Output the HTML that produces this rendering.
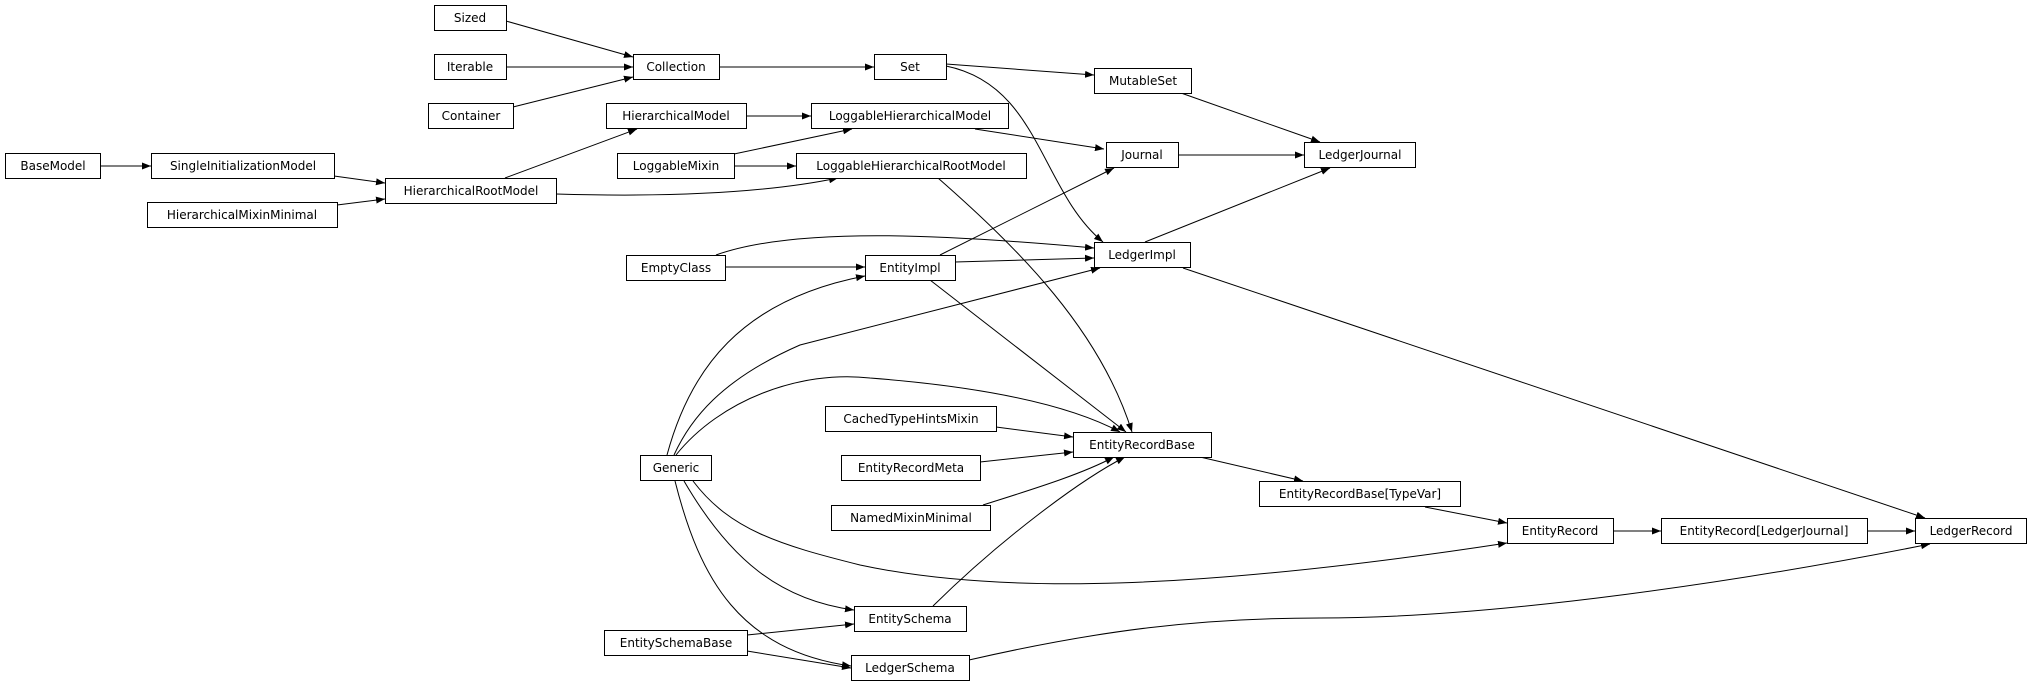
<!DOCTYPE html>
<html><head><meta charset="utf-8"><style>
html,body{margin:0;padding:0;background:#fff;}
svg{display:block;}
text{font-family:"DejaVu Sans","Liberation Sans",sans-serif;font-size:12px;fill:#000;}
rect{fill:#fff;stroke:#000;stroke-width:1;}
path{fill:none;stroke:#000;stroke-width:1;}
</style></head><body>
<svg width="2027" height="687" viewBox="0 0 2027 687" xmlns="http://www.w3.org/2000/svg">
<defs><marker id="a" markerWidth="9" markerHeight="7" refX="9" refY="3.5" orient="auto" markerUnits="userSpaceOnUse"><path d="M0,0 L9,3.5 L0,7 Z" style="fill:#000;stroke:none"/></marker></defs>
<g marker-end="url(#a)">
<path d="M506,21 L633,57"/>
<path d="M506,67 L633,67"/>
<path d="M513,107 L633,77"/>
<path d="M719,67 L874,67"/>
<path d="M946,64 L1094,75"/>
<path d="M946,66 C1040,85 1040,190 1103,242"/>
<path d="M1181,93 L1320,142"/>
<path d="M746,116 L811,116"/>
<path d="M975,129 L1104,149"/>
<path d="M734,154 L852,129"/>
<path d="M734,166 L796,166"/>
<path d="M1178,155 L1304,155"/>
<path d="M100,166 L151,166"/>
<path d="M334,176 L385,183"/>
<path d="M337,205 L385,199"/>
<path d="M505,178 L637,129"/>
<path d="M556,194 C690,198 780,190 838,178"/>
<path d="M938,178 C1020,250 1100,330 1132,432"/>
<path d="M725,267 L865,267"/>
<path d="M716,255 C800,225 960,236 1094,248"/>
<path d="M940,255 L1114,168"/>
<path d="M955,262 L1094,258"/>
<path d="M930,280 L1126,432"/>
<path d="M1145,242 L1330,168"/>
<path d="M1183,268 L1925,518"/>
<path d="M667,455 C690,370 740,300 865,276"/>
<path d="M674,455 C690,420 720,380 800,345 L1100,268"/>
<path d="M676,455 C720,400 800,370 870,378 C960,385 1060,400 1120,432"/>
<path d="M996,427 L1073,437"/>
<path d="M980,462 L1073,452"/>
<path d="M983,505 C1030,490 1080,475 1114,457"/>
<path d="M933,606 C1000,540 1080,480 1125,457"/>
<path d="M1200,457 L1303,481"/>
<path d="M1425,507 L1507,523"/>
<path d="M693,481 C730,530 780,545 860,565 C1000,595 1200,590 1507,543"/>
<path d="M684,481 C730,560 780,600 854,610"/>
<path d="M675,481 C700,580 740,650 851,666"/>
<path d="M747,635 L854,624"/>
<path d="M747,651 L851,668"/>
<path d="M969,660 C1100,630 1200,618 1320,618 C1500,618 1750,580 1930,544"/>
<path d="M1613,531 L1661,531"/>
<path d="M1867,531 L1915,531"/>
</g>
<g text-anchor="middle">
<rect x="434.5" y="5.5" width="72" height="25"/><text x="470" y="22">Sized</text>
<rect x="434.5" y="54.5" width="72" height="25"/><text x="470" y="71">Iterable</text>
<rect x="428.5" y="103.5" width="85" height="25"/><text x="471" y="120">Container</text>
<rect x="633.5" y="54.5" width="86" height="25"/><text x="676" y="71">Collection</text>
<rect x="874.5" y="54.5" width="72" height="25"/><text x="910" y="71">Set</text>
<rect x="1094.5" y="68.5" width="97" height="25"/><text x="1143" y="85">MutableSet</text>
<rect x="606.5" y="103.5" width="140" height="25"/><text x="676" y="120">HierarchicalModel</text>
<rect x="811.5" y="103.5" width="197" height="25"/><text x="910" y="120">LoggableHierarchicalModel</text>
<rect x="1106.5" y="142.5" width="72" height="25"/><text x="1142" y="159">Journal</text>
<rect x="1304.5" y="142.5" width="111" height="25"/><text x="1360" y="159">LedgerJournal</text>
<rect x="5.5" y="153.5" width="95" height="25"/><text x="53" y="170">BaseModel</text>
<rect x="151.5" y="153.5" width="183" height="25"/><text x="243" y="170">SingleInitializationModel</text>
<rect x="617.5" y="153.5" width="117" height="25"/><text x="676" y="170">LoggableMixin</text>
<rect x="796.5" y="153.5" width="230" height="25"/><text x="911" y="170">LoggableHierarchicalRootModel</text>
<rect x="385.5" y="178.5" width="171" height="25"/><text x="471" y="195">HierarchicalRootModel</text>
<rect x="147.5" y="202.5" width="190" height="25"/><text x="242" y="219">HierarchicalMixinMinimal</text>
<rect x="1094.5" y="242.5" width="96" height="25"/><text x="1142" y="259">LedgerImpl</text>
<rect x="626.5" y="255.5" width="99" height="25"/><text x="676" y="272">EmptyClass</text>
<rect x="865.5" y="255.5" width="90" height="25"/><text x="910" y="272">EntityImpl</text>
<rect x="825.5" y="406.5" width="171" height="25"/><text x="911" y="423">CachedTypeHintsMixin</text>
<rect x="1073.5" y="432.5" width="138" height="25"/><text x="1142" y="449">EntityRecordBase</text>
<rect x="640.5" y="455.5" width="71" height="25"/><text x="676" y="472">Generic</text>
<rect x="841.5" y="455.5" width="139" height="25"/><text x="911" y="472">EntityRecordMeta</text>
<rect x="1259.5" y="481.5" width="201" height="25"/><text x="1360" y="498">EntityRecordBase[TypeVar]</text>
<rect x="831.5" y="505.5" width="159" height="25"/><text x="911" y="522">NamedMixinMinimal</text>
<rect x="1507.5" y="518.5" width="106" height="25"/><text x="1560" y="535">EntityRecord</text>
<rect x="1661.5" y="518.5" width="206" height="25"/><text x="1764" y="535">EntityRecord[LedgerJournal]</text>
<rect x="1915.5" y="518.5" width="111" height="25"/><text x="1971" y="535">LedgerRecord</text>
<rect x="854.5" y="606.5" width="112" height="25"/><text x="910" y="623">EntitySchema</text>
<rect x="604.5" y="630.5" width="143" height="25"/><text x="676" y="647">EntitySchemaBase</text>
<rect x="851.5" y="655.5" width="118" height="25"/><text x="910" y="672">LedgerSchema</text>
</g>
</svg>
</body></html>
